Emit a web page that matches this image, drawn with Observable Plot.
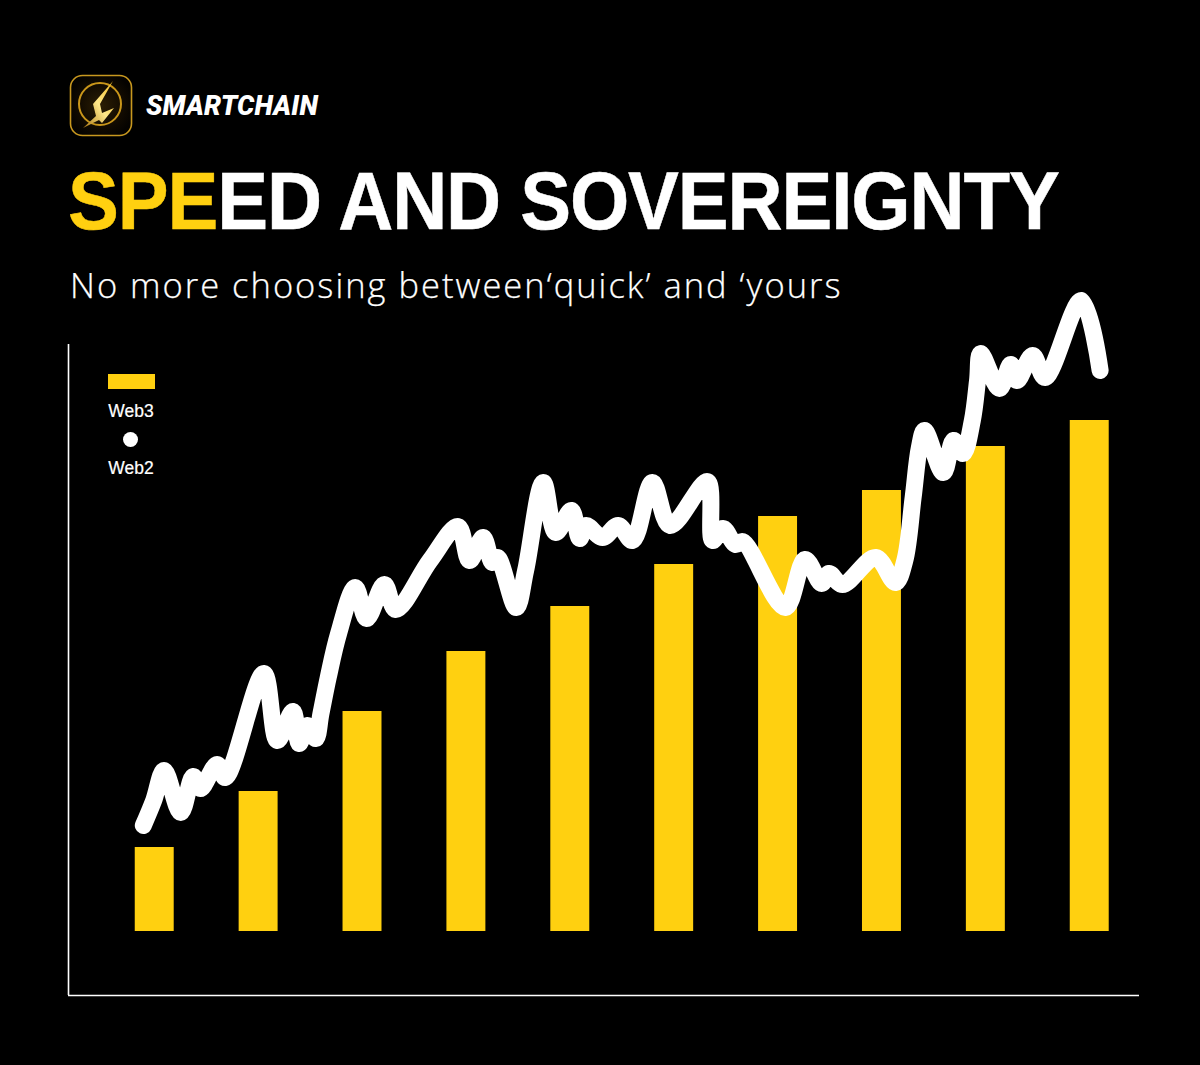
<!DOCTYPE html>
<html>
<head>
<meta charset="utf-8">
<script src="https://cdn.jsdelivr.net/npm/d3@7"></script>
<script src="https://cdn.jsdelivr.net/npm/@observablehq/plot@0.6"></script>
<style>
html,body{margin:0;padding:0;background:#000;}
#page{position:relative;width:1200px;height:1065px;background:#000;overflow:hidden;}
#page>*{position:absolute;}
#logo{left:69px;top:74px;}
#brand{left:146px;top:88px;font:italic 900 27px Roboto,sans-serif;color:#fff;letter-spacing:.2px;line-height:36px;white-space:nowrap;}
#title{left:68px;top:153px;margin:0;font:700 82px "Liberation Sans",Arial,sans-serif;line-height:96px;color:#fff;white-space:nowrap;letter-spacing:-1.2px;-webkit-text-stroke:.5px currentColor;transform:scaleX(.93);transform-origin:0 50%;}
#title span{color:#FFD010;}
#subtitle{left:70px;top:261px;margin:0;font:300 34.5px "Open Sans",sans-serif;line-height:48px;color:#fff;white-space:nowrap;letter-spacing:2px;-webkit-text-stroke:.25px #fff;}
#chart{left:0;top:290px;}
.lg{font:17.5px "Liberation Sans",Arial,sans-serif;color:#fff;width:60px;text-align:center;left:101px;line-height:18px;-webkit-text-stroke:.2px #fff;}
#sw3{left:108px;top:374px;width:47px;height:15px;background:#FFD010;}
#sw2{left:123px;top:432px;width:15px;height:15px;border-radius:50%;background:#fff;}
</style>
</head>
<body>
<div id="page">
<svg id="logo" width="64" height="64" viewBox="0 0 64 64">
  <defs>
    <radialGradient id="glow" cx="50%" cy="50%" r="55%"><stop offset="0" stop-color="#2c1e04"/><stop offset=".65" stop-color="#120b01"/><stop offset="1" stop-color="#050300"/></radialGradient>
    <linearGradient id="bolt" x1="0" y1="1" x2="1" y2="0"><stop offset="0" stop-color="#a87410"/><stop offset=".5" stop-color="#ffe88a"/><stop offset="1" stop-color="#f0b81e"/></linearGradient>
  </defs>
  <rect x="1.5" y="1.5" width="61" height="60" rx="12" fill="url(#glow)" stroke="#c8981f" stroke-width="1.6"/>
  <circle cx="31" cy="30" r="21" fill="none" stroke="#c9961a" stroke-width="2"/>
  <path d="M44 7 L24 30 L27 42 L14 54 L30 46 L33 49 L45 34 L33 39 L31 30 Z" fill="url(#bolt)"/>
</svg>
<div id="brand">SMARTCHAIN</div>
<h1 id="title"><span>SPE</span>ED AND SOVEREIGNTY</h1>
<p id="subtitle">No more choosing between‘quick’ and ‘yours</p>
<div id="chart"></div>
<div id="sw3"></div>
<div class="lg" style="top:402px">Web3</div>
<div id="sw2"></div>
<div class="lg" style="top:459px">Web2</div>
</div>
<script>
const web3Period = [1, 2, 3, 4, 5, 6, 7, 8, 9, 10];
const web3Value = [84, 140, 220, 280, 325, 367, 415, 441, 485, 511];
const web2Period = [0.89, 0.99, 1.09, 1.25, 1.37, 1.44, 1.60, 1.68, 2.05, 2.18, 2.33, 2.39, 2.47, 2.55, 2.60, 2.67, 2.77, 2.93, 3.04, 3.21, 3.32, 3.65, 3.92, 4.03, 4.16, 4.25, 4.30, 4.48, 4.57, 4.74, 4.86, 5.01, 5.09, 5.15, 5.31, 5.46, 5.60, 5.79, 5.96, 6.32, 6.37, 6.47, 6.59, 6.66, 7.07, 7.26, 7.42, 7.49, 7.62, 7.94, 8.13, 8.22, 8.30, 8.36, 8.41, 8.59, 8.69, 8.78, 8.87, 8.92, 8.95, 9.13, 9.24, 9.30, 9.45, 9.57, 9.92, 10.10];
const web2Value = [106, 131, 161, 119, 155, 143, 167, 154, 258, 191, 220, 188, 206, 193, 218, 254, 298, 344, 313, 347, 322, 371, 405, 371, 394, 369, 374, 324, 361, 449, 399, 421, 393, 406, 394, 406, 391, 449, 406, 450, 391, 403, 387, 390, 324, 372, 348, 358, 347, 374, 349, 371, 434, 484, 501, 459, 491, 478, 511, 551, 578, 543, 567, 551, 576, 554, 631, 561];

const web3 = web3Period.map((p, i) => ({period: p, value: web3Value[i]}));
const web2 = web2Period.map((p, i) => ({period: p, value: web2Value[i]}));
const barHalf = 0.1875;
const xDomain = [0.17, 10.479];
const yDomain = [-64, 641];

const chart = Plot.plot({
  width: 1200,
  height: 775,
  marginLeft: 68,
  marginRight: 61,
  marginTop: 0,
  marginBottom: 70,
  style: {background: "transparent", overflow: "visible"},
  x: {domain: xDomain, axis: null},
  y: {domain: yDomain, axis: null},
  marks: [
    Plot.rect(web3, {x1: d => d.period - barHalf, x2: d => d.period + barHalf, y1: 0, y2: "value", fill: "#FFD010"}),
    Plot.line(web2, {x: "period", y: "value", stroke: "#fff", strokeWidth: 17, curve: "catmull-rom", strokeLinecap: "round", strokeLinejoin: "round"}),
    Plot.ruleX([xDomain[0]], {y1: yDomain[0], y2: 587, stroke: "#fff", strokeWidth: 1.6}),
    Plot.ruleY([yDomain[0]], {x1: xDomain[0], x2: xDomain[1], stroke: "#fff", strokeWidth: 1.6})
  ]
});
document.getElementById("chart").appendChild(chart);
</script>
</body>
</html>
